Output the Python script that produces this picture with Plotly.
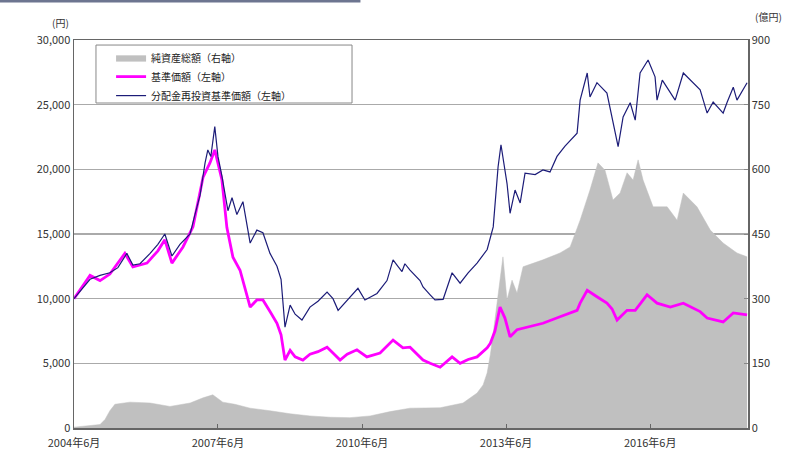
import plotly.graph_objects as go

# 分配金再投資基準価額（左軸, 円）
nav_reinv_dates = ["2004-06-01","2004-10-01","2004-12-16","2005-03-01","2005-05-01","2005-07-08","2005-08-23","2005-10-16",
"2006-01-01","2006-03-01","2006-04-23","2006-06-16","2006-08-16","2006-11-01","2006-12-08","2007-01-16","2007-02-23",
"2007-03-16","2007-04-08","2007-05-08","2007-06-01","2007-07-01","2007-08-16","2007-09-16","2007-10-23","2007-12-08",
"2008-02-01","2008-03-23","2008-05-08","2008-07-01","2008-08-23","2008-09-23","2008-10-23","2008-12-01","2009-01-08",
"2009-03-01","2009-05-01","2009-07-01","2009-09-08","2009-10-23","2009-12-01","2010-02-08","2010-05-01","2010-06-23",
"2010-09-23","2010-12-08","2011-01-23","2011-03-01","2011-04-01","2011-04-23","2011-06-01","2011-08-16","2011-09-08",
"2011-11-01","2011-12-08","2012-02-08","2012-04-16","2012-06-16","2012-08-16","2012-10-23","2013-01-08","2013-02-23",
"2013-04-01","2013-04-23","2013-06-08","2013-07-01","2013-08-08","2013-09-16","2013-10-23","2014-01-08","2014-03-08",
"2014-05-01","2014-06-23","2014-08-23","2014-10-23","2014-11-23","2014-12-16","2015-02-08","2015-03-01","2015-04-23",
"2015-07-08","2015-08-16","2015-10-01","2015-11-08","2016-01-01","2016-02-08","2016-03-16","2016-05-16","2016-07-08",
"2016-07-23","2016-09-01","2016-12-08","2017-02-08","2017-06-16","2017-08-08","2017-09-23","2017-12-08","2018-01-08",
"2018-02-23","2018-03-23","2018-06-08"]
nav_reinv = [10000,11500,11800,12000,12400,13500,12600,12700,
13500,14200,15000,13300,14200,15000,16500,18000,20500,
21500,21000,23300,21000,19500,16800,17800,16500,17500,
14300,15300,15100,13500,12500,11500,7800,9500,8800,
8350,9350,9800,10500,10000,9100,9900,10800,9900,
10400,11400,13000,12500,12100,12700,12200,11400,10900,
10300,9900,9950,12000,11200,12000,12750,13800,15550,
20200,21900,18900,16600,18400,17400,19700,19600,19950,
19800,21000,21800,22500,22800,25350,27450,25600,26700,
25900,24050,21750,24050,25150,23800,27450,28450,27150,
25350,26900,25350,27450,26150,24350,25200,24350,25200,
26350,25350,26700]

# 基準価額（左軸, 円）
nav_dates = ["2004-06-01","2004-10-01","2004-12-16","2005-03-01","2005-06-23","2005-08-23","2005-12-08","2006-03-01",
"2006-04-23","2006-06-16","2006-09-08","2006-11-23","2007-02-08","2007-04-01","2007-05-08","2007-07-01","2007-08-08",
"2007-09-23","2007-11-16","2007-12-23","2008-02-01","2008-03-23","2008-05-08","2008-07-01","2008-08-23","2008-09-23",
"2008-10-23","2008-12-01","2009-01-08","2009-03-08","2009-05-01","2009-07-01","2009-09-08","2009-10-23","2009-12-16",
"2010-02-08","2010-04-23","2010-07-08","2010-10-16","2011-01-23","2011-04-08","2011-06-01","2011-08-16","2011-09-08",
"2011-11-01","2012-01-16","2012-04-16","2012-06-16","2012-08-16","2012-10-23","2013-01-08","2013-02-01","2013-03-08",
"2013-04-16","2013-05-23","2013-07-01","2013-08-23","2013-11-08","2014-03-08","2014-07-16","2014-10-01","2014-11-23",
"2014-12-16","2015-02-08","2015-04-23","2015-07-08","2015-08-16","2015-09-23","2015-12-08","2016-02-08","2016-05-08",
"2016-07-23","2016-11-01","2017-02-08","2017-06-16","2017-08-08","2017-12-08","2018-02-23","2018-06-08"]
nav = [10000,11800,11400,11900,13500,12450,12750,13700,
14550,12750,14000,15550,19400,20500,21500,19200,15500,
13200,12200,10800,9350,9900,9900,9000,8100,7200,
5250,6000,5500,5250,5700,5900,6250,5800,5250,
5700,6050,5500,5800,6800,6200,6250,5500,5250,
5000,4700,5500,5000,5300,5500,6200,6550,7500,
9350,8500,7050,7600,7800,8100,8600,8900,9100,
9650,10650,10150,9650,9200,8350,9100,9100,10300,
9650,9350,9650,9000,8500,8200,8900,8750]

# 純資産総額（右軸, 億円）
assets_dates = ["2004-06-01","2004-10-01","2004-12-16","2005-01-23","2005-03-01","2005-04-08","2005-08-01","2006-01-01",
"2006-06-01","2006-11-01","2007-02-08","2007-04-23","2007-07-08","2007-10-08","2008-02-01","2008-07-01","2008-12-01",
"2009-05-01","2009-10-01","2010-03-01","2010-08-01","2011-01-01","2011-06-01","2012-01-16","2012-07-08","2012-10-23",
"2012-12-08","2013-01-08","2013-02-01","2013-02-23","2013-04-01","2013-05-08","2013-06-08","2013-07-16","2013-08-23",
"2013-10-08","2014-03-08","2014-07-16","2014-10-01","2014-12-16","2015-03-01","2015-05-01","2015-06-23","2015-08-23",
"2015-10-16","2015-12-08","2016-01-23","2016-03-01","2016-04-08","2016-06-23","2016-10-08","2016-12-23","2017-02-08",
"2017-05-23","2017-09-01","2017-12-08","2018-03-23","2018-06-08"]
assets = [2,5,8,20,40,55,60,58,
50,58,70,77,60,55,46,40,33,
28,25,24,28,38,46,47,58,81,
100,128,170,220,313,397,297,343,313,
374,390,406,420,482,552,615,598,529,
545,592,575,622,575,513,513,482,545,
513,459,429,406,397]

x_tickvals = ["2004-06-01","2007-06-01","2010-06-01","2013-06-01","2016-06-01"]
x_ticktext = ["2004年6月","2007年6月","2010年6月","2013年6月","2016年6月"]
left_ticks = [0,5000,10000,15000,20000,25000,30000]
right_ticks = [0,150,300,450,600,750,900]

FONT = "Noto Sans CJK JP"

fig = go.Figure()
fig.add_trace(go.Scatter(x=assets_dates, y=assets, name="純資産総額（右軸）", mode="lines",
                         line=dict(color="#c0c0c0", width=0.5), fill="tozeroy", fillcolor="#c0c0c0",
                         yaxis="y"))
fig.add_trace(go.Scatter(x=nav_dates, y=nav, name="基準価額（左軸）", mode="lines",
                         line=dict(color="#ff00ff", width=2.8), yaxis="y2"))
fig.add_trace(go.Scatter(x=nav_reinv_dates, y=nav_reinv, name="分配金再投資基準価額（左軸）", mode="lines",
                         line=dict(color="#1c1c78", width=1.2), yaxis="y2"))

fig.update_layout(
    width=787, height=455,
    margin=dict(l=74, r=39, t=40, b=27, autoexpand=False),
    paper_bgcolor="white", plot_bgcolor="white",
    font=dict(family=FONT, size=11, color="#333333"),
    showlegend=True,
    legend=dict(x=0.055, y=0.992, xanchor="left", yanchor="top",
                bgcolor="rgba(0,0,0,0)", borderwidth=0,
                font=dict(family=FONT, size=10, color="#222222"),
                tracegroupgap=0, itemwidth=30),
    xaxis=dict(type="date", range=["2004-06-01", "2018-06-15"],
               tickvals=x_tickvals, ticktext=x_ticktext,
               ticks="inside", ticklen=4, tickcolor="#666666", ticklabelstandoff=4,
               showgrid=False, showline=True, linecolor="#666666", linewidth=1.5, mirror=True,
               tickfont=dict(size=11, color="#333333")),
    yaxis=dict(side="right", range=[0, 900], tickvals=right_ticks,
               showgrid=True, gridcolor="#aaaaaa", gridwidth=1.2,
               ticks="inside", ticklen=4, tickcolor="#888888",
               showline=True, linecolor="#666666", linewidth=1.5,
               zeroline=False, tickfont=dict(size=11, color="#333333")),
    yaxis2=dict(side="left", overlaying="y", range=[0, 30000], tickvals=left_ticks,
                tickformat=",", showgrid=False, showline=True, linecolor="#666666", linewidth=1.5,
                zeroline=False, tickfont=dict(size=11, color="#333333")),
    annotations=[
        dict(text="(円)", xref="paper", yref="paper", x=-0.005, y=1.0, xanchor="right", yanchor="bottom",
             yshift=8, showarrow=False, font=dict(size=10, color="#333333")),
        dict(text="(億円)", xref="paper", yref="paper", x=1.053, y=1.0, xanchor="right", yanchor="bottom",
             yshift=14, showarrow=False, font=dict(size=10, color="#333333")),
    ],
    shapes=[
        dict(type="line", xref="paper", yref="paper", x0=-0.11, x1=0.425, y0=1.1, y1=1.1,
             line=dict(color="#6d7590", width=2.5)),
        dict(type="rect", xref="paper", yref="paper", x0=0.0326, x1=0.4125, y0=0.8376, y1=0.987,
             fillcolor="white", line=dict(color="#888888", width=1), layer="above"),
    ],
)

fig.write_html("out.html",
               config={"displayModeBar": False, "staticPlot": True, "responsive": False},
               post_script="document.body.style.margin='0';document.body.style.overflow='hidden';")
